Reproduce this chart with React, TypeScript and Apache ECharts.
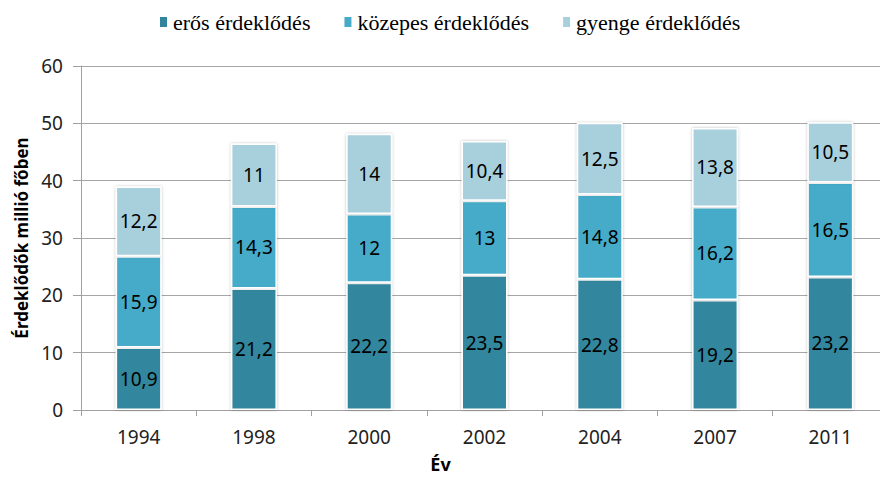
import React, { useEffect, useRef } from "react";
import * as echarts from "echarts";

const years = ["1994", "1998", "2000", "2002", "2004", "2007", "2011"];
const strong = [10.9, 21.2, 22.2, 23.5, 22.8, 19.2, 23.2];
const medium = [15.9, 14.3, 12, 13, 14.8, 16.2, 16.5];
const weak = [12.2, 11, 14, 10.4, 12.5, 13.8, 10.5];
const seriesNames = ["erős érdeklődés", "közepes érdeklődés", "gyenge érdeklődés"];
const colors = ["#31869D", "#45ABC8", "#A7CFDC"];
const yTicks = { min: 0, max: 60, interval: 10 };

export default function App() {
  const ref = useRef<HTMLDivElement>(null);
  useEffect(() => {
    if (!ref.current) return;
    const chart = echarts.init(ref.current, null, { renderer: "svg" });
    const sans = "Noto Sans";
    const mk = (name: string, data: number[], color: string) => ({
      name,
      type: "bar",
      stack: "total",
      data,
      barWidth: 46,
      itemStyle: {
        color,
        borderColor: "#ffffff",
        borderWidth: 1.5,
        shadowBlur: 3,
        shadowColor: "rgba(0,0,0,0.25)",
      },
      label: {
        show: true,
        position: "inside",
        color: "#000000",
        fontFamily: sans,
        fontSize: 19,
        formatter: (p: any) => String(p.value).replace(".", ","),
      },
    });
    chart.setOption({
      animation: false,
      color: colors,
      legend: {
        top: 6,
        left: 153,
        itemWidth: 9,
        itemHeight: 12,
        itemGap: 32,
        icon: "rect",
        textStyle: { fontFamily: "Liberation Serif", fontSize: 22, color: "#000" },
        data: seriesNames,
      },
      grid: { left: 81, right: 0, top: 66, bottom: 71, containLabel: false },
      xAxis: {
        type: "category",
        data: years,
        name: "Év",
        nameLocation: "middle",
        nameGap: 45,
        nameTextStyle: {
          fontFamily: sans,
          fontWeight: "bold",
          fontSize: 18,
          color: "#000",
          padding: [0, 88, 0, 0],
        },
        axisLine: { lineStyle: { color: "#A0A0A0", width: 1 } },
        axisTick: { show: true, length: 6, lineStyle: { color: "#A0A0A0" } },
        axisLabel: { margin: 17, fontFamily: sans, fontSize: 19, color: "#222" },
      },
      yAxis: {
        type: "value",
        min: yTicks.min,
        max: yTicks.max,
        interval: yTicks.interval,
        name: "Érdeklődők millió főben",
        nameLocation: "middle",
        nameGap: 47,
        nameRotate: 90,
        nameTextStyle: { fontFamily: sans, fontWeight: "bold", fontSize: 17, color: "#000" },
        axisLine: { show: true, lineStyle: { color: "#A0A0A0", width: 1 } },
        axisTick: { show: true, length: 8, lineStyle: { color: "#A0A0A0" } },
        axisLabel: { margin: 18, fontFamily: sans, fontSize: 19, color: "#222" },
        splitLine: { lineStyle: { color: "#A6A6A6", width: 1 } },
      },
      series: [
        mk(seriesNames[0], strong, colors[0]),
        mk(seriesNames[1], medium, colors[1]),
        mk(seriesNames[2], weak, colors[2]),
      ],
    });
    return () => chart.dispose();
  }, []);
  return (
    <div style={{ position: "absolute", left: 0, top: 0, width: 880, height: 481, overflow: "hidden", background: "#fff" }}>
      <div ref={ref} style={{ width: 888, height: 481 }} />
    </div>
  );
}
